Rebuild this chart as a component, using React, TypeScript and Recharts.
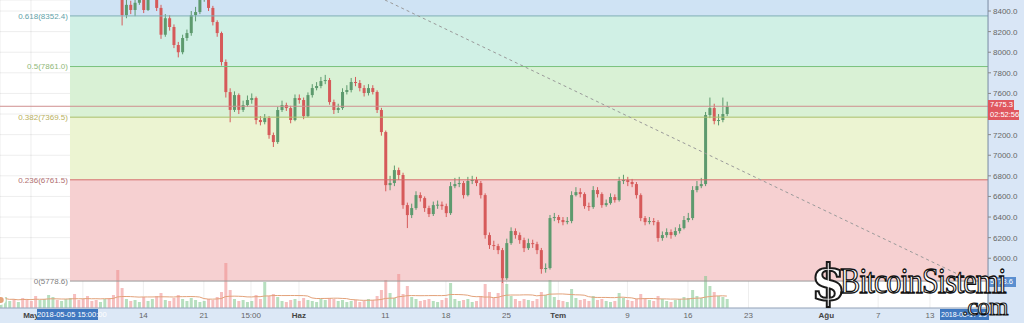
import React from 'react';
import {
  ComposedChart,
  Bar,
  Line,
  XAxis,
  YAxis,
  CartesianGrid,
  ReferenceArea,
  ReferenceLine
} from 'recharts';

// 12h candles, time in days counted from 1 May 2018
const firstDay = -3.5;
const step = 0.5;
const firstOpen = 8900;

const closes = [
  8950, 9300, 9380, 9350, 9400, 9280, 9240, 9100, 9050, 9150, 9230, 9500, 9700, 9650, 9700, 9780, 9850, 9700, 9650, 9500,
  9370, 9300, 9200, 9250, 9330, 9200, 9050, 8800, 8360, 8460, 8410, 8480, 8560, 8410, 8600, 8700, 8430, 8170, 8330, 8245,
  8070, 8000, 8138, 8186, 8360, 8390, 8520, 8550, 8430, 8293, 8186, 7905, 7613, 7440, 7584, 7440, 7487, 7536, 7555, 7342,
  7322, 7361, 7196, 7128, 7439, 7487, 7458, 7342, 7555, 7536, 7380, 7584, 7652, 7672, 7720, 7730, 7516, 7439, 7458, 7614,
  7633, 7711, 7701, 7652, 7604, 7652, 7614, 7439, 7225, 6710, 6730, 6856, 6808, 6516, 6419, 6487, 6613, 6584, 6487, 6429,
  6516, 6520, 6506, 6438, 6700, 6720, 6730, 6613, 6750, 6760, 6730, 6613, 6225, 6128, 6118, 6079, 5807, 6147, 6264, 6225,
  6176, 6098, 6147, 6137, 6079, 5895, 5905, 6390, 6400, 6371, 6351, 6361, 6613, 6642, 6623, 6506, 6497, 6662, 6623, 6516,
  6535, 6594, 6565, 6750, 6759, 6740, 6720, 6613, 6390, 6351, 6361, 6351, 6196, 6225, 6254, 6225, 6264, 6293, 6371, 6390,
  6662, 6700, 6720, 7390, 7458, 7332, 7342, 7400, 7475.3
];

const highs = [
  9050, 9350, 9420, 9430, 9460, 9420, 9320, 9270, 9150, 9190, 9280, 9540, 9760, 9740, 9760, 9820, 9940, 9880, 9740, 9680,
  9530, 9400, 9330, 9300, 9380, 9360, 9230, 9080, 8830, 8520, 8500, 8540, 8620, 8590, 8650, 8760, 8720, 8460, 8370, 8360,
  8270, 8100, 8170, 8220, 8400, 8440, 8560, 8600, 8580, 8450, 8310, 8200, 7930, 7650, 7620, 7600, 7530, 7580, 7600, 7570,
  7380, 7400, 7380, 7220, 7470, 7530, 7510, 7480, 7590, 7590, 7560, 7610, 7690, 7710, 7760, 7780, 7750, 7540, 7500, 7650,
  7680, 7750, 7760, 7730, 7680, 7690, 7680, 7630, 7460, 7240, 6800, 6900, 6880, 6830, 6540, 6530, 6650, 6640, 6600, 6510,
  6550, 6560, 6550, 6530, 6740, 6780, 6790, 6750, 6790, 6800, 6790, 6750, 6630, 6250, 6170, 6140, 6100, 6190, 6300, 6290,
  6250, 6200, 6190, 6180, 6160, 6100, 5950, 6420, 6440, 6420, 6400, 6400, 6650, 6690, 6680, 6640, 6540, 6700, 6690, 6640,
  6570, 6630, 6620, 6790, 6810, 6790, 6770, 6740, 6630, 6410, 6400, 6390, 6370, 6260, 6290, 6280, 6300, 6330, 6410, 6440,
  6700, 6750, 6780, 7420, 7560, 7500, 7400, 7560, 7520
];

const lows = [
  8850, 8920, 9260, 9300, 9320, 9240, 9180, 9060, 8990, 9020, 9120, 9200, 9470, 9600, 9620, 9660, 9740, 9650, 9600, 9440,
  9320, 9250, 9150, 9170, 9220, 9150, 9000, 8720, 8260, 8330, 8370, 8350, 8460, 8380, 8400, 8560, 8400, 8130, 8150, 8210,
  8040, 7950, 7980, 8110, 8160, 8300, 8370, 8490, 8400, 8260, 8150, 7870, 7560, 7320, 7420, 7400, 7420, 7470, 7500, 7300,
  7290, 7300, 7160, 7080, 7110, 7420, 7430, 7310, 7330, 7500, 7350, 7370, 7560, 7630, 7650, 7690, 7490, 7400, 7410, 7440,
  7590, 7610, 7670, 7620, 7570, 7580, 7590, 7410, 7190, 6650, 6660, 6700, 6760, 6480, 6293, 6390, 6470, 6550, 6450, 6400,
  6410, 6480, 6470, 6400, 6420, 6680, 6690, 6580, 6600, 6720, 6700, 6580, 6190, 6090, 6080, 6040, 5760, 5790, 6130, 6190,
  6140, 6060, 6080, 6100, 6040, 5850, 5860, 5890, 6360, 6340, 6320, 6330, 6340, 6600, 6590, 6480, 6460, 6480, 6590, 6490,
  6500, 6520, 6540, 6550, 6720, 6700, 6690, 6580, 6360, 6320, 6330, 6320, 6160, 6170, 6200, 6190, 6210, 6240, 6280, 6350,
  6370, 6640, 6680, 6700, 7360, 7300, 7290, 7320, 7380
];

const volumes = [
  800, 1100, 700, 900, 600, 1000, 900, 700, 1200, 800, 900, 1300, 1100, 800, 700, 900, 1000, 1400, 800, 900,
  1200, 700, 800, 600, 900, 1000, 1300, 3800, 2000, 900, 700, 800, 600, 1100, 700, 900, 1200, 1500, 800, 700,
  1000, 1300, 900, 700, 1000, 800, 600, 700, 900, 800, 1100, 1600, 4500, 1800, 900, 700, 800, 600, 700, 1300,
  900, 2600, 1200, 1400, 1100, 700, 600, 800, 900, 700, 1000, 800, 700, 600, 900, 800, 1000, 900, 700, 800,
  600, 700, 800, 600, 700, 900, 800, 1200, 1800, 2800, 1500, 1000, 3400, 1400, 2200, 1100, 900, 700, 800, 900,
  700, 600, 800, 1000, 2500, 900, 700, 800, 900, 600, 700, 1200, 2400, 1600, 1000, 1500, 3600, 2400, 1200, 900,
  700, 900, 800, 700, 900, 1600, 1300, 2800, 1100, 800, 700, 600, 1900, 1000, 800, 900, 700, 1200, 800, 900,
  700, 600, 700, 1500, 1000, 800, 700, 900, 1400, 1000, 800, 700, 1200, 900, 700, 600, 800, 900, 1100, 1000,
  1800, 1200, 1000, 3200, 2200, 1600, 1200, 1100, 900
];

// the May 7 tick sits under the crosshair date box, so it has no label
const dayTicks = [0, 6, 13, 20, 25.45, 31, 41, 48, 55, 61, 69, 76, 83, 92, 98, 104];
const dayLabels = ['May', '', '14', '21', '15:00', 'Haz', '11', '18', '25', 'Tem', '9', '16', '23', 'Ağu', '7', '13'];
const priceTicks = [5800, 6000, 6200, 6400, 6600, 6800, 7000, 7200, 7400, 7600, 7800, 8000, 8200, 8400];
// covered by the price tags on the right axis
const hiddenPriceLabels = [5800, 7400];

const fibRatios = ['0', '0.236', '0.382', '0.5', '0.618'];
const fibPrices = [5778.6, 6761.5, 7369.5, 7861.0, 8352.4];
const fibFills = ['#f6d0d1', '#ecf4d2', '#d9f1d5', '#d0f0e5', '#cfe3f4'];
const fibLines = ['#9a9a9a', '#d46a6a', '#a9bf6a', '#79c27c', '#7fb0b5'];
const fibText = ['#808080', '#b07070', '#b8b060', '#8fb878', '#5fa2a8'];

const lastPrice = 7475.3;
const xMin = -3.586;
const xMax = 110.71;
const yMin = 5517;
const yMax = 8507;
const bandStart = 4.51;

const UP = '#5d9a6e';
const DOWN = '#d65a5a';

const data = closes.map((c, i) => {
  const o = i === 0 ? firstOpen : closes[i - 1];
  const from = Math.max(0, i - 19);
  const win = volumes.slice(from, i + 1);
  return {
    t: firstDay + i * step,
    o,
    c,
    h: highs[i],
    l: lows[i],
    range: [lows[i], highs[i]],
    vol: volumes[i],
    volMA: win.reduce((a, b) => a + b, 0) / win.length
  };
});

const Candle = (props: any) => {
  const { x, y, width, height, payload } = props;
  if (!payload) return null;
  const { o, c, h, l } = payload;
  const color = c >= o ? UP : DOWN;
  const top = Math.min(y, y + height);
  const hgt = Math.abs(height);
  const k = hgt / (h - l || 1);
  const yo = top + (h - o) * k;
  const yc = top + (h - c) * k;
  const cx = x + width / 2;
  return (
    <g>
      <line x1={cx} x2={cx} y1={top} y2={top + hgt} stroke={color} strokeWidth={1} />
      <rect x={x} y={Math.min(yo, yc)} width={width} height={Math.max(1, Math.abs(yc - yo))} fill={color} />
    </g>
  );
};

const VolBar = (props: any) => {
  const { x, y, width, height, payload } = props;
  if (!payload) return null;
  const color = payload.c >= payload.o ? '#7cc48a' : '#ee8a8a';
  return <rect x={x} y={Math.min(y, y + height)} width={width} height={Math.abs(height)} fill={color} fillOpacity={0.55} />;
};

const DayTick = (props: any) => {
  const { x, payload } = props;
  const idx = dayTicks.indexOf(payload.value);
  const label = dayLabels[idx] ?? '';
  if (!label) return null;
  const strong = ['May', 'Haz', 'Tem', 'Ağu'].includes(label);
  return (
    <text x={x} y={318} textAnchor="middle" fontSize={8} fill={strong ? '#444' : '#666'} fontWeight={strong ? 700 : 400}>
      {label}
    </text>
  );
};

const PriceTick = (props: any) => {
  const { x, y, payload } = props;
  if (hiddenPriceLabels.includes(payload.value)) return null;
  return (
    <text x={x} y={y + 3} textAnchor="start" fontSize={8} fill="#666">
      {Number(payload.value).toFixed(1)}
    </text>
  );
};

const font = '"Liberation Sans", Arial, sans-serif';

const tag = (left: number, top: number, bg: string, text: string, width: number) => (
  <div
    style={{
      position: 'absolute', left, top, width, height: 10, background: bg, color: '#fff',
      fontSize: 7.5, lineHeight: '10px', fontFamily: font, paddingLeft: 2, overflow: 'hidden', whiteSpace: 'nowrap'
    }}
  >
    {text}
  </div>
);

const App: React.FC = () => {
  return (
    <div style={{ position: 'absolute', left: 0, top: 0, width: 1024, height: 323, background: '#fff', overflow: 'hidden', fontFamily: font }}>
      <div style={{ position: 'absolute', left: 988, top: 0, width: 36, height: 323, background: '#d9e6f6' }} />
      <div style={{ position: 'absolute', left: 0, top: 308, width: 988, height: 15, background: '#dce8f6' }} />
      <div style={{ position: 'absolute', left: 0, top: 0 }}>
        <ComposedChart width={1024} height={323} data={data} margin={{ top: 0, right: 0, bottom: 0, left: 0 }}>
          {fibPrices.map((p, i) => (
            <ReferenceArea
              key={'band' + i}
              x1={bandStart}
              x2={xMax}
              y1={p}
              y2={i < fibPrices.length - 1 ? fibPrices[i + 1] : yMax}
              fill={fibFills[i]}
              fillOpacity={1}
              stroke="none"
              ifOverflow="hidden"
            />
          ))}
          <CartesianGrid stroke="#000" strokeOpacity={0.07} />
          <XAxis
            dataKey="t"
            type="number"
            domain={[xMin, xMax]}
            allowDataOverflow
            ticks={dayTicks}
            tick={<DayTick />}
            tickLine={false}
            axisLine={{ stroke: '#9aaac0' }}
            height={15}
            interval={0}
          />
          <XAxis xAxisId="vol" dataKey="t" type="number" domain={[xMin, xMax]} allowDataOverflow hide />
          <YAxis
            orientation="right"
            type="number"
            domain={[yMin, yMax]}
            allowDataOverflow
            ticks={priceTicks}
            tick={<PriceTick />}
            tickLine={{ stroke: '#888' }}
            tickSize={3}
            axisLine={{ stroke: '#7d8ea6' }}
            width={36}
            interval={0}
          />
          <YAxis yAxisId="vol" domain={[0, 30800]} hide />
          <Bar
            xAxisId="vol"
            yAxisId="vol"
            dataKey="vol"
            barSize={3}
            shape={<VolBar />}
            isAnimationActive={false}
          />
          <Line
            xAxisId="vol"
            yAxisId="vol"
            dataKey="volMA"
            stroke="#e3a27a"
            strokeWidth={1}
            dot={false}
            isAnimationActive={false}
          />
          {fibPrices.map((p, i) => (
            <ReferenceLine
              key={'fib' + i}
              segment={[{ x: bandStart, y: p }, { x: xMax, y: p }]}
              stroke={fibLines[i]}
              strokeWidth={1}
              ifOverflow="hidden"
              label={{
                value: `${fibRatios[i]}(${p.toFixed(1)})`,
                position: 'left',
                fill: fibText[i],
                fontSize: 8,
                offset: 2
              }}
            />
          ))}
          <ReferenceLine y={lastPrice} stroke="#cf8f8f" strokeWidth={1} />
          <ReferenceLine
            segment={[{ x: 40.95, y: yMax }, { x: 108.6, y: 5790 }]}
            stroke="#9a9a9a"
            strokeDasharray="3 3"
            ifOverflow="hidden"
          />
          <Bar dataKey="range" barSize={3} shape={<Candle />} isAnimationActive={false} />
        </ComposedChart>
      </div>

      <div style={{ position: 'absolute', left: 37, top: 309, width: 61, height: 11, background: '#3f78c0', color: '#fff', fontSize: 7.5, lineHeight: '11px', textAlign: 'center', whiteSpace: 'nowrap' }}>
        2018-05-05 15:00:00
      </div>
      <div style={{ position: 'absolute', left: 940, top: 309, width: 48, height: 11, background: '#3f78c0', color: '#fff', fontSize: 7, lineHeight: '11px', paddingLeft: 1, overflow: 'hidden', whiteSpace: 'nowrap' }}>
        2018-08-17 23
      </div>
      {tag(988, 100, '#e0575f', '7475.3', 24)}
      {tag(988, 110, '#e0575f', '02:52:56', 29)}
      {tag(988, 277, '#5b8fd0', '5778.6', 26)}

      <div style={{ position: 'absolute', left: 811, top: 257, fontSize: 50, lineHeight: '52px', fontFamily: '"DejaVu Serif", serif', fontWeight: 700, color: '#fff', WebkitTextStroke: '2px #1a1a1a' }}>
        $
      </div>
      <div style={{ position: 'absolute', left: 840, top: 262, fontSize: 36, lineHeight: '38px', fontFamily: '"Liberation Serif", serif', color: '#fff', WebkitTextStroke: '1.3px #111', letterSpacing: -1.2, whiteSpace: 'nowrap', transform: 'scaleX(0.84)', transformOrigin: 'left top' }}>
        BitcoinSistemi
      </div>
      <div style={{ position: 'absolute', left: 962, top: 294, fontSize: 26, lineHeight: '26px', fontFamily: '"Liberation Serif", serif', color: '#fff', WebkitTextStroke: '1.1px #111', letterSpacing: -0.8, whiteSpace: 'nowrap', transform: 'scaleX(0.95)', transformOrigin: 'left top' }}>
        .com
      </div>
    </div>
  );
};

export default App;
